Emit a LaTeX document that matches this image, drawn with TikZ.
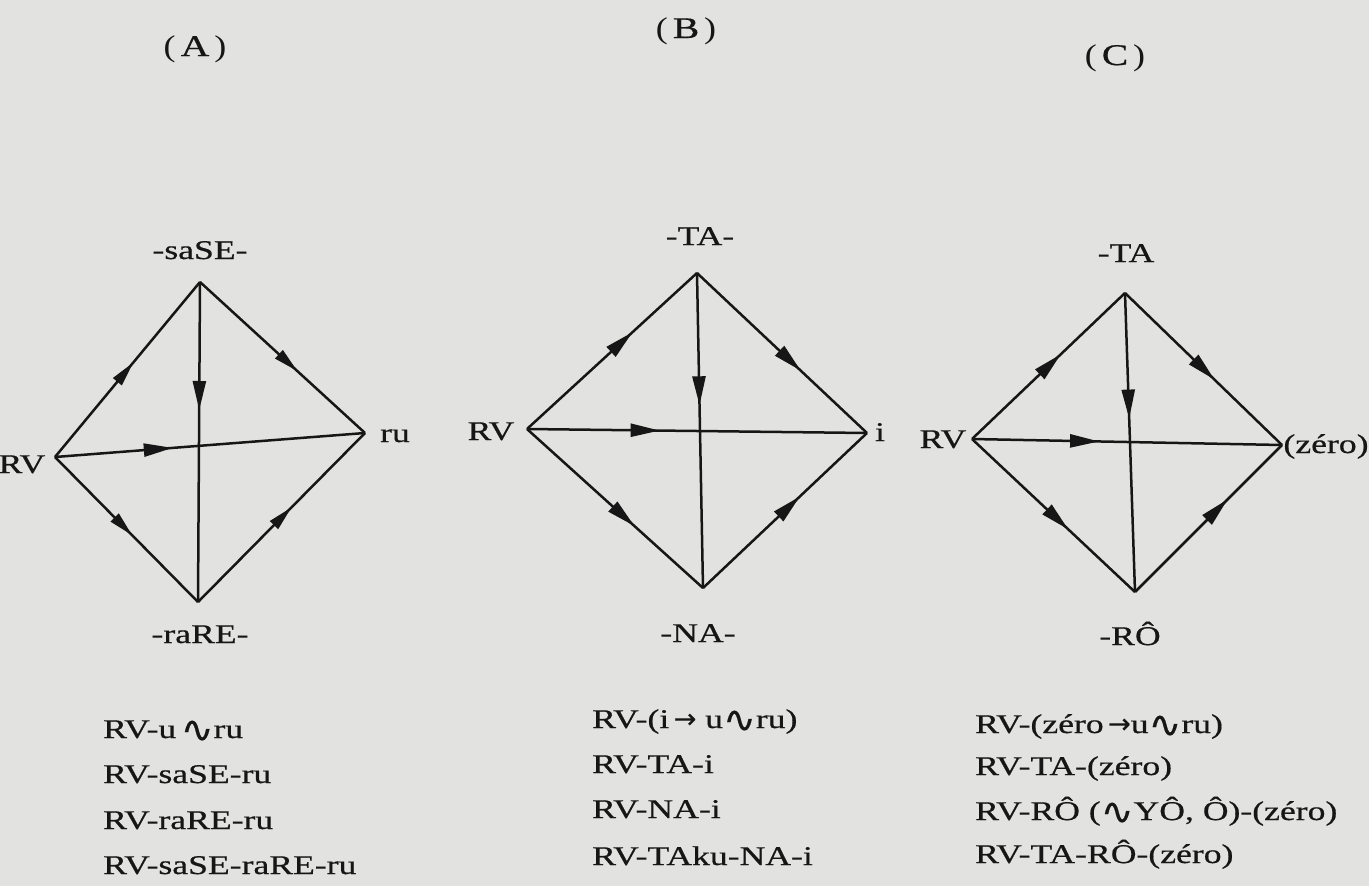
\documentclass[tikz,border=0pt]{standalone}
\usepackage{fontspec}
\usepackage{graphicx}
\setmainfont[FakeStretch=1.32,FakeBold=0.6]{Liberation Serif}
\newfontfamily\symf[FakeBold=0.4]{DejaVu Sans}
\newfontfamily\thinf[FakeStretch=1.2]{Liberation Serif}
\usetikzlibrary{arrows.meta,decorations.markings}
\definecolor{paper}{RGB}{226,226,224}
\definecolor{ink}{RGB}{22,22,22}
\tikzset{
  edge/.style={draw=ink, line width=2.5pt},
  ma/.style={postaction={decorate},decoration={markings,mark=at position #1 with {\arrow[ink]{Triangle[length=29pt,width=13pt]}}}},
  mas/.style={postaction={decorate},decoration={markings,mark=at position #1 with {\arrow[ink]{Triangle[length=25pt,width=11pt]}}}},
  lbl/.style={anchor=base, inner sep=0pt, text=ink, font=\fontsize{27}{31}\selectfont},
  ttl/.style={anchor=base, inner sep=0pt, text=ink, font=\fontsize{30}{34}\selectfont},
  ln/.style={anchor=base west, inner sep=0pt, text=ink, font=\fontsize{27}{31}\selectfont},
}
\newcommand{\wav}{\raisebox{-4pt}{\scalebox{1.45}[1.35]{\symf ∿}}}
\newcommand{\arr}{{\symf →}}
\begin{document}
\begin{tikzpicture}[x=1pt,y=-1pt]
\fill[paper] (0,0) rectangle (1369,886);
\useasboundingbox (0,0) rectangle (1369,886);

% ---------- (A)
\node[ttl] (tA) at (195,56) {{\thinf(}\,A\,{\thinf)}};
\coordinate (At) at (200,282);
\coordinate (Al) at (55,457);
\coordinate (Ar) at (365,433);
\coordinate (Ab) at (198,602);
\node[lbl] (Atl) at (200,259) {-saSE-};
\node[lbl] (All) at (22,473) {RV};
\node[lbl] (Arl) at (395,442) {ru};
\node[lbl] (Abl) at (200,643) {-raRE-};
\draw[edge,mas=0.54] (Al) -- (At);
\draw[edge,mas=0.59] (At) -- (Ar);
\draw[edge,mas=0.54] (Al) -- (Ab);
\draw[edge,mas=0.56] (Ab) -- (Ar);
\draw[edge,ma=0.40] (At) -- (Ab);
\draw[edge,ma=0.38] (Al) -- (Ar);

% ---------- (B)
\node[ttl] (tB) at (686,38) {{\thinf(}\,B\,{\thinf)}};
\coordinate (Bt) at (697,273);
\coordinate (Bl) at (527,429);
\coordinate (Br) at (867,433);
\coordinate (Bb) at (703,588);
\node[lbl] (Btl) at (700,245) {-TA-};
\node[lbl] (Bll) at (491,440) {RV};
\node[lbl] (Brl) at (880,441) {i};
\node[lbl] (Bbl) at (698,642) {-NA-};
\draw[edge,ma=0.62] (Bl) -- (Bt);
\draw[edge,ma=0.61] (Bt) -- (Br);
\draw[edge,ma=0.61] (Bl) -- (Bb);
\draw[edge,ma=0.59] (Bb) -- (Br);
\draw[edge,ma=0.42] (Bt) -- (Bb);
\draw[edge,ma=0.39] (Bl) -- (Br);

% ---------- (C)
\node[ttl] (tC) at (1115,65) {{\thinf(}\,C\,{\thinf)}};
\coordinate (Ct) at (1125,293);
\coordinate (Cl) at (972,439);
\coordinate (Cr) at (1282,445);
\coordinate (Cb) at (1135,592);
\node[lbl] (Ctl) at (1126,262) {-TA};
\node[lbl] (Cll) at (943,448) {RV};
\node[lbl] (Crl) at (1326,453) {(zéro)};
\node[lbl] (Cbl) at (1130,645) {-RÔ};
\draw[edge,ma=0.58] (Cl) -- (Ct);
\draw[edge,ma=0.57] (Ct) -- (Cr);
\draw[edge,ma=0.59] (Cl) -- (Cb);
\draw[edge,ma=0.63] (Cb) -- (Cr);
\draw[edge,ma=0.42] (Ct) -- (Cb);
\draw[edge,ma=0.41] (Cl) -- (Cr);

% ---------- forms
\node[ln] (a1) at (103,738) {RV-u\,\wav ru};
\node[ln] (a2) at (103,783) {RV-saSE-ru};
\node[ln] (a3) at (103,829) {RV-raRE-ru};
\node[ln] (a4) at (103,874) {RV-saSE-raRE-ru};

\node[ln] (b1) at (592,728) {RV-(i\,\arr{} u\wav ru)};
\node[ln] (b2) at (592,773) {RV-TA-i};
\node[ln] (b3) at (592,818) {RV-NA-i};
\node[ln] (b4) at (592,865) {RV-TAku-NA-i};

\node[ln] (c1) at (975,733) {RV-(zéro\,\arr u\wav ru)};
\node[ln] (c2) at (975,775) {RV-TA-(zéro)};
\node[ln] (c3) at (975,820) {RV-RÔ (\wav YÔ, Ô)-(zéro)};
\node[ln] (c4) at (975,863) {RV-TA-RÔ-(zéro)};
\end{tikzpicture}
\end{document}
